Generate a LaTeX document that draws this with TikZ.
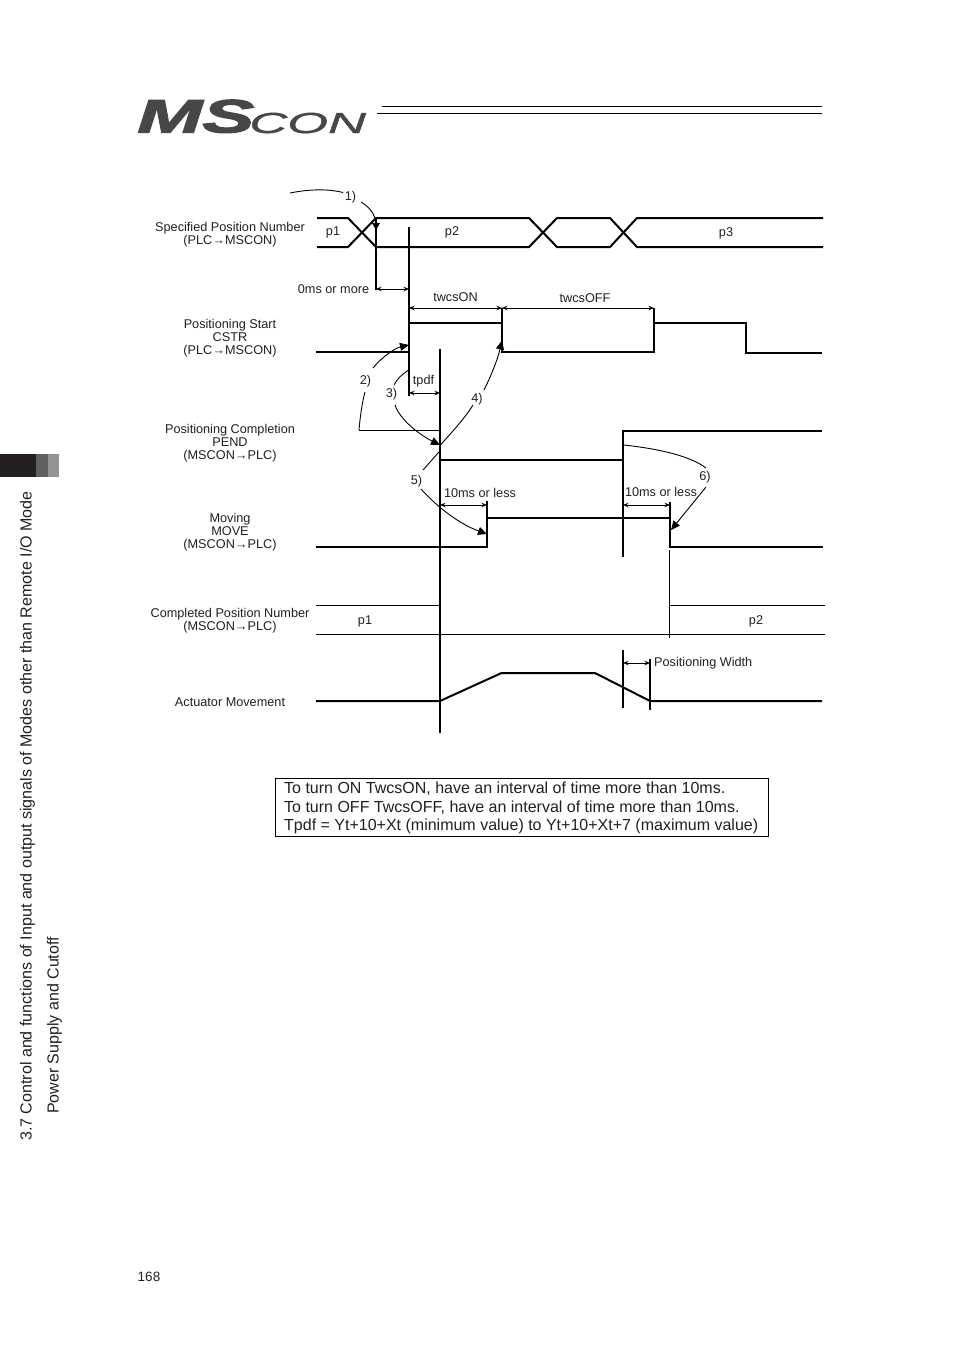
\documentclass[tikz,border=0pt]{standalone}
\usepackage{fontspec}
\setmainfont{Liberation Sans}
\newfontfamily\logofont[BoldItalicFeatures={FakeBold=2.2},ItalicFeatures={FakeBold=1}]{Liberation Sans}
\usetikzlibrary{arrows.meta}
\definecolor{ink}{HTML}{231F20}
\newcommand{\smalltxt}{\fontsize{12.7}{13}\selectfont}
\newcommand{\bigtxt}{\fontsize{16}{18.7}\selectfont}
\tikzset{
  wave/.style={line width=2pt,black,line join=miter},
  thin wave/.style={line width=1pt,black},
  guide/.style={line width=1.7pt,black},
  hair/.style={line width=1pt,black},
  dim/.style={line width=0.9pt,black,{Stealth[length=5.5pt,width=4.5pt]}-{Stealth[length=5.5pt,width=4.5pt]}},
  note/.style={line width=0.9pt,black},
  notearrow/.style={line width=0.9pt,black,-{Triangle[length=9pt,width=8pt]}},
  lab/.style={font=\smalltxt,text=ink,inner sep=0pt,align=center,yshift=-1pt},
  siglab/.style={lab,font=\fontsize{12.7}{13}\selectfont},
}
\begin{document}
\begin{tikzpicture}[x=1pt,y=-1pt]
\useasboundingbox (0,0) rectangle (954,1350);
% side tab
\fill[ink] (0,454) rectangle (36,477);
\fill[black!62] (36,454) rectangle (48,477);
\fill[black!42] (48,454) rectangle (59,477);
\node[lab,rotate=90,anchor=west,font=\fontsize{16.05}{18.7}\selectfont] (side1) at (27.5,1140) {3.7 Control and functions of Input and output signals of Modes other than Remote I/O Mode};
\node[lab,rotate=90,anchor=west,font=\bigtxt] (side2) at (54.5,1113) {Power Supply and Cutoff};
\node[lab,font=\fontsize{13.5}{14}\selectfont] (page) at (149,1276) {168};
% logo
\node[anchor=base west,inner sep=0pt,text=black!72,xscale=1.66] (logoA) at (137,132.5) {\fontsize{47}{47}\selectfont\logofont\bfseries\itshape MS};
\node[anchor=base west,inner sep=0pt,text=black!72,xscale=1.81] (logoB) at (249,133) {\fontsize{29}{29}\selectfont\logofont\itshape CON};
\coordinate (h1a) at (382,106); \coordinate (h1b) at (822,106);
\coordinate (h2a) at (377,113); \coordinate (h2b) at (822,113);
\draw[hair] (h1a) -- (h1b);
\draw[hair] (h2a) -- (h2b);
% row labels
\node[siglab] (r1) at (230,233.5) {Specified Position Number\\(PLC→MSCON)};
\node[siglab] (r2) at (230,337) {Positioning Start\\CSTR\\(PLC→MSCON)};
\node[siglab] (r3) at (230,442) {Positioning Completion\\PEND\\(MSCON→PLC)};
\node[siglab] (r4) at (230,531) {Moving\\MOVE\\(MSCON→PLC)};
\node[siglab] (r5) at (230,620) {Completed Position Number\\(MSCON→PLC)};
\node[siglab] (r6) at (230,701) {Actuator Movement};
% Specified position
\draw[wave] (317,218) -- (348,218) -- (376,247) -- (529,247) -- (557,218) -- (610,218) -- (637,247) -- (823,247);
\draw[wave] (317,247) -- (348,247) -- (376,218) -- (529,218) -- (557,247) -- (610,247) -- (637,218) -- (823,218);
\node[lab] at (333,231) {p1};
\node[lab] at (452,231.5) {p2};
\node[lab] at (726,232) {p3};
% CSTR
\draw[wave] (316,352) -- (409,352) -- (409,323) -- (502,323) -- (502,352) -- (654,352) -- (654,323) -- (746,323) -- (746,353) -- (822,353);
% PEND
\draw[thin wave] (359,430) -- (440,430);
\draw[wave] (440,460) -- (623,460) -- (623,431) -- (822,431);
% MOVE
\draw[wave] (316,547) -- (487,547) -- (487,518) -- (670,518) -- (670,547) -- (823,547);
% Completed position
\draw[thin wave] (316,605) -- (440,605);
\draw[thin wave] (669,605) -- (825,605);
\draw[thin wave] (316,634) -- (825,634);
\node[lab] at (365,620) {p1};
\node[lab] at (756,620.5) {p2};
% Actuator
\draw[wave] (316,701) -- (440,701) -- (501.5,673) -- (595,673) -- (650,701) -- (822,701);
% guides
\draw[guide] (376,218) -- (376,290);
\draw[guide] (409,227) -- (409,396);
\draw[guide] (440,349) -- (440,733);
\draw[guide] (502,308) -- (502,352);
\draw[guide] (654,308) -- (654,352);
\draw[guide] (623,460) -- (623,557);
\draw[guide] (487,501) -- (487,518);
\draw[guide] (670,502) -- (670,518);
\draw[hair] (669,550) -- (669,638);
\draw[guide] (623,650) -- (623,708);
\draw[guide] (650,659) -- (650,710);
% dimensions
\coordinate (d1a) at (376,289); \coordinate (d1b) at (409,289);
\coordinate (d2a) at (409,308); \coordinate (d2b) at (502,308); \coordinate (d2c) at (654,308);
\coordinate (d3a) at (409,393); \coordinate (d3b) at (440,393);
\coordinate (d4a) at (440,505); \coordinate (d4b) at (487,505);
\coordinate (d5a) at (623,505); \coordinate (d5b) at (670,505);
\coordinate (d6a) at (623,663); \coordinate (d6b) at (650,663);
\draw[dim] (d1a) -- (d1b);
\draw[dim] (d2a) -- (d2b);
\draw[dim] (d2b) -- (d2c);
\draw[dim] (d3a) -- (d3b);
\draw[dim] (d4a) -- (d4b);
\draw[dim] (d5a) -- (d5b);
\draw[dim] (d6a) -- (d6b);
\node[lab] at (333.5,288) {0ms or more};
\node[lab] at (455.5,296) {twcsON};
\node[lab] at (585,297) {twcsOFF};
\node[lab] at (423.5,380) {tpdf};
\node[lab] at (480,492) {10ms or less};
\node[lab] at (661,491) {10ms or less};
\node[lab,anchor=west] at (654,662) {Positioning Width};
% notes
\node[lab] (n1) at (350.5,196.5) {1)};
\node[lab] (n2) at (365.5,380) {2)};
\node[lab] (n3) at (391.5,393) {3)};
\node[lab] (n4) at (477,398.5) {4)};
\node[lab] (n5) at (416.5,480.5) {5)};
\node[lab] (n6) at (705,476.5) {6)};
\fill[black] (372,223) -- (380,223) -- (376,230) -- cycle;
\coordinate (t1) at (375,218); \coordinate (t2) at (409,345); \coordinate (t3) at (440,445);
\coordinate (t4) at (502,340.5); \coordinate (t5) at (487,534); \coordinate (t6) at (671,530);
\coordinate (s1) at (290,193); \coordinate (s2) at (359,430); \coordinate (s3) at (409,370);
\coordinate (s4) at (440,445.5); \coordinate (s5) at (439,452); \coordinate (s6) at (624,445);
\coordinate (e1) at (343,192.5);
\draw[note] (s1) .. controls (305,190) and (325,188) .. (e1);
\draw[note] (361,202) .. controls (368,206) and (373,212) .. (t1);
\draw[note] (s2) .. controls (360,418) and (362,403) .. (365,392);
\draw[notearrow] (373,368) .. controls (382,357) and (395,348) .. (t2);
\draw[note] (s3) .. controls (402,374) and (397,379) .. (394,385);
\draw[notearrow] (395,405) .. controls (400,420) and (420,435) .. (t3);
\draw[note] (s4) .. controls (452,432) and (465,418) .. (473,405);
\draw[notearrow] (484,390) .. controls (492,374) and (498,358) .. (t4);
\draw[note] (423,470) -- (s5);
\draw[notearrow] (421,489) .. controls (440,510) and (462,525) .. (t5);
\draw[note] (s6) .. controls (660,449) and (690,456) .. (706,468);
\draw[notearrow] (706,487) -- (t6);
% text box
\node[draw=black,line width=1.2pt,anchor=north west,minimum width=493pt,minimum height=58pt,inner sep=0pt] (box) at (275,778) {};
\node[anchor=north west,inner sep=0pt,text=ink,align=left,font=\bigtxt] (boxtxt) at (284,781.5) {To turn ON TwcsON, have an interval of time more than 10ms.\\To turn OFF TwcsOFF, have an interval of time more than 10ms.\\Tpdf = Yt+10+Xt (minimum value) to Yt+10+Xt+7 (maximum value)};
\end{tikzpicture}
\end{document}
